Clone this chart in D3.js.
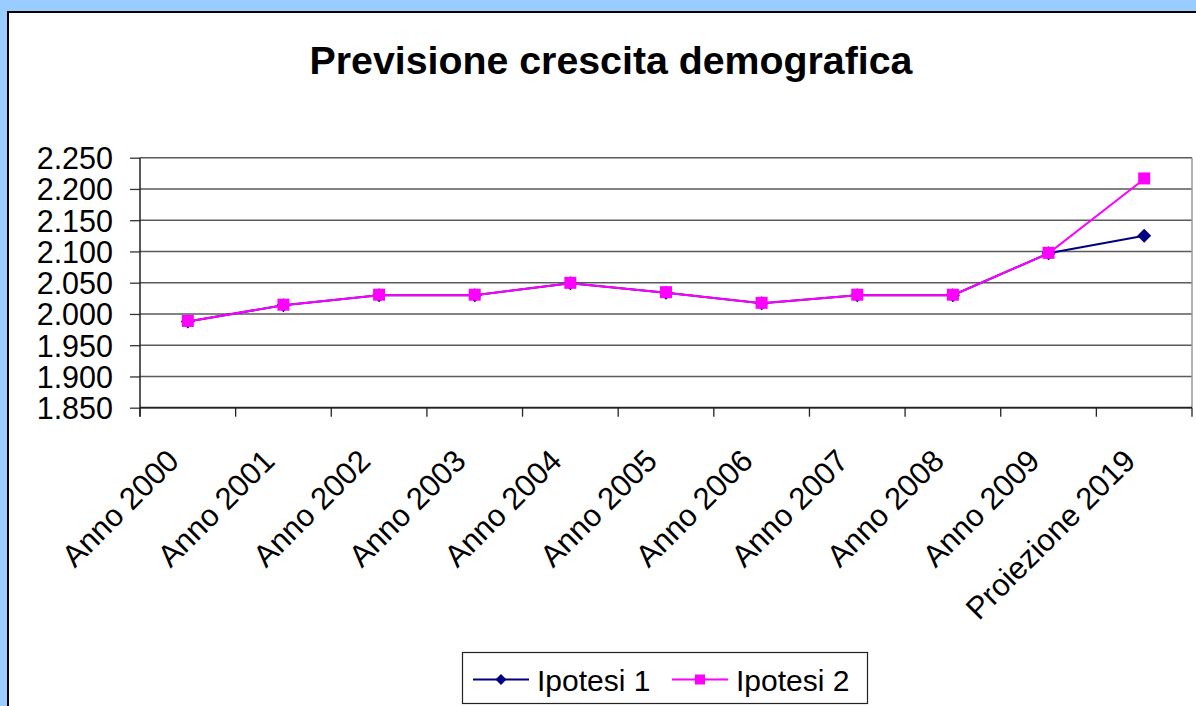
<!DOCTYPE html>
<html>
<head>
<meta charset="utf-8">
<script src="https://cdn.jsdelivr.net/npm/d3@7"></script>
<style>
  html, body { margin: 0; padding: 0; background: #fff; }
  svg { display: block; font-family: "Liberation Sans", Arial, sans-serif; }
</style>
</head>
<body>
<svg id="chart" width="1196" height="706"></svg>
<script>
// Population forecast: yearly figures 2000–2009 plus two 2019 projection scenarios
const categories = ["Anno 2000", "Anno 2001", "Anno 2002", "Anno 2003", "Anno 2004",
                    "Anno 2005", "Anno 2006", "Anno 2007", "Anno 2008", "Anno 2009",
                    "Proiezione 2019"];
const ipotesi1 = [1988, 2014, 2030, 2030, 2049, 2034, 2017, 2030, 2030, 2097, 2125];
const ipotesi2 = [1988, 2014, 2030, 2030, 2049, 2034, 2017, 2030, 2030, 2097, 2216];
const yTicks = [1850, 1900, 1950, 2000, 2050, 2100, 2150, 2200, 2250];
const seriesNames = ["Ipotesi 1", "Ipotesi 2"];
const titleText = "Previsione crescita demografica";

const svg = d3.select("#chart");
const W = 1196, H = 706;

// Window frame: light blue strip with black chart-area border
svg.append("rect").attr("x", 0).attr("y", 0).attr("width", W).attr("height", H).attr("fill", "#99CCFF");
svg.append("rect").attr("x", 7).attr("y", 11).attr("width", W).attr("height", H).attr("fill", "#000");
svg.append("rect").attr("x", 9).attr("y", 13).attr("width", W).attr("height", H).attr("fill", "#fff");

const plot = { left: 140, right: 1192, top: 157.7, bottom: 407.7 };

const x = d3.scaleBand().domain(categories).range([plot.left, plot.right]).paddingInner(0).paddingOuter(0);
const y = d3.scaleLinear().domain([1850, 2250]).range([plot.bottom, plot.top]);
const cx = d => x(d) + x.bandwidth() / 2;

const itLocale = d3.formatLocale({ decimal: ",", thousands: ".", grouping: [3], currency: ["€", ""] });
const fmt = itLocale.format(",d");

// Title
svg.append("text")
  .attr("x", 611).attr("y", 74.3)
  .attr("text-anchor", "middle")
  .attr("font-size", 39.3).attr("font-weight", "bold").attr("fill", "#000")
  .text(titleText);

// Horizontal gridlines
svg.append("g").selectAll("line").data(yTicks).join("line")
  .attr("x1", plot.left).attr("x2", plot.right)
  .attr("y1", d => y(d)).attr("y2", d => y(d))
  .attr("stroke", "#5a5a5a").attr("stroke-width", 1.5);

// Right border of plot area
svg.append("line")
  .attr("x1", plot.right).attr("x2", plot.right)
  .attr("y1", plot.top).attr("y2", plot.bottom)
  .attr("stroke", "#9a9a9a").attr("stroke-width", 1.5);

// Y axis
const yAxis = d3.axisLeft(y).tickValues(yTicks).tickFormat(fmt).tickSize(10).tickSizeOuter(0);
const gy = svg.append("g").attr("transform", `translate(${plot.left},0)`).call(yAxis);
gy.select(".domain").remove();
gy.selectAll(".tick line").attr("stroke", "#333").attr("stroke-width", 1.3);
gy.selectAll(".tick text")
  .attr("x", -27).attr("dy", "0.36em")
  .attr("font-size", 30.5).attr("fill", "#000")
  .attr("font-family", "Liberation Sans, Arial, sans-serif");
svg.append("line")
  .attr("x1", plot.left).attr("x2", plot.left)
  .attr("y1", plot.top).attr("y2", plot.bottom + 9)
  .attr("stroke", "#222").attr("stroke-width", 1.5);

// X axis: tick marks at category boundaries
const boundaries = categories.map(c => x(c)).concat([plot.right]);
svg.append("line")
  .attr("x1", plot.left).attr("x2", plot.right)
  .attr("y1", plot.bottom).attr("y2", plot.bottom)
  .attr("stroke", "#222").attr("stroke-width", 1.8);
svg.append("g").selectAll("line").data(boundaries).join("line")
  .attr("x1", d => d).attr("x2", d => d)
  .attr("y1", plot.bottom).attr("y2", plot.bottom + 9)
  .attr("stroke", "#222").attr("stroke-width", 1.3);

// X labels, rotated 45°
svg.append("g").selectAll("text").data(categories).join("text")
  .attr("transform", d => `translate(${cx(d) - 7},${plot.bottom + 55}) rotate(-45)`)
  .attr("text-anchor", "end")
  .attr("font-size", 31).attr("fill", "#000")
  .text(d => d);

// Series lines and markers
const line = d3.line().x((d, i) => cx(categories[i])).y(d => y(d));
const s1Color = "#000080", s2Color = "#FF00FF";

svg.append("path").datum(ipotesi1).attr("d", line)
  .attr("fill", "none").attr("stroke", s1Color).attr("stroke-width", 2);
svg.append("g").selectAll("polygon").data(ipotesi1).join("polygon")
  .attr("points", (d, i) => {
    const px = cx(categories[i]), py = y(d), r = 7;
    return `${px},${py - r} ${px + r},${py} ${px},${py + r} ${px - r},${py}`;
  })
  .attr("fill", s1Color);

svg.append("path").datum(ipotesi2).attr("d", line)
  .attr("fill", "none").attr("stroke", s2Color).attr("stroke-width", 2);
svg.append("g").selectAll("rect").data(ipotesi2).join("rect")
  .attr("x", (d, i) => cx(categories[i]) - 6)
  .attr("y", d => y(d) - 6.5)
  .attr("width", 12).attr("height", 12)
  .attr("fill", s2Color);

// Legend
const lg = svg.append("g");
lg.append("rect").attr("x", 462.5).attr("y", 652.5).attr("width", 405).attr("height", 51)
  .attr("fill", "#fff").attr("stroke", "#222").attr("stroke-width", 1.2);
const legendItems = [
  { name: seriesNames[0], color: s1Color, x0: 473, shape: "diamond" },
  { name: seriesNames[1], color: s2Color, x0: 672, shape: "square" }
];
legendItems.forEach(it => {
  const ly = 679.5;
  lg.append("line").attr("x1", it.x0).attr("x2", it.x0 + 56).attr("y1", ly).attr("y2", ly)
    .attr("stroke", it.color).attr("stroke-width", 2);
  const mx = it.x0 + 28;
  if (it.shape === "diamond") {
    const r = 5.5;
    lg.append("polygon").attr("points", `${mx},${ly - r} ${mx + r},${ly} ${mx},${ly + r} ${mx - r},${ly}`)
      .attr("fill", it.color);
  } else {
    lg.append("rect").attr("x", mx - 5).attr("y", ly - 5).attr("width", 10).attr("height", 10)
      .attr("fill", it.color);
  }
  lg.append("text").attr("x", it.x0 + 64).attr("y", ly + 11)
    .attr("font-size", 30).attr("fill", "#000").text(it.name);
});
</script>
</body>
</html>
